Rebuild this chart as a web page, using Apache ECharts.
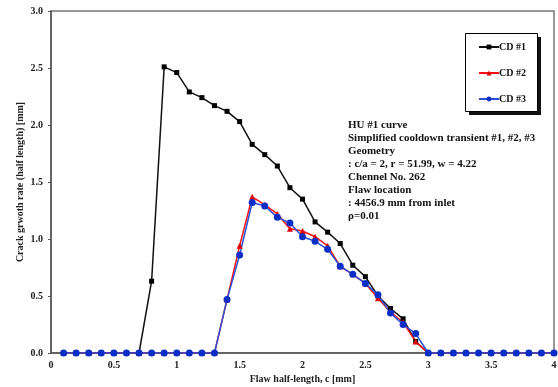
<!DOCTYPE html>
<html>
<head>
<meta charset="utf-8">
<script src="https://cdn.jsdelivr.net/npm/echarts@6/dist/echarts.min.js"></script>
<style>
  html, body { margin: 0; padding: 0; background: #fff; }
  #chart { width: 558px; height: 387px; }
</style>
</head>
<body>
<div id="chart"></div>
<script>
// flaw half-length c [mm]
const flawC = [0.1, 0.2, 0.3, 0.4, 0.5, 0.6, 0.7, 0.8, 0.9, 1.0,
  1.1, 1.2, 1.3, 1.4, 1.5, 1.6, 1.7, 1.8, 1.9, 2.0,
  2.1, 2.2, 2.3, 2.4, 2.5, 2.6, 2.7, 2.8, 2.9, 3.0,
  3.1, 3.2, 3.3, 3.4, 3.5, 3.6, 3.7, 3.8, 3.9, 4.0];

const cd1 = [0, 0, 0, 0, 0, 0, 0, 0.63, 2.51, 2.46,
  2.29, 2.24, 2.17, 2.12, 2.03, 1.83, 1.74, 1.64, 1.45, 1.35,
  1.15, 1.06, 0.96, 0.77, 0.67, 0.50, 0.39, 0.30, 0.10, 0,
  0, 0, 0, 0, 0, 0, 0, 0, 0, 0];

const cd2 = [0, 0, 0, 0, 0, 0, 0, 0, 0, 0,
  0, 0, 0, 0.47, 0.94, 1.37, 1.30, 1.22, 1.09, 1.07,
  1.02, 0.94, 0.76, 0.69, 0.61, 0.48, 0.36, 0.27, 0.10, 0,
  0, 0, 0, 0, 0, 0, 0, 0, 0, 0];

const cd3 = [0, 0, 0, 0, 0, 0, 0, 0, 0, 0,
  0, 0, 0, 0.47, 0.86, 1.32, 1.29, 1.19, 1.14, 1.02,
  0.98, 0.91, 0.76, 0.69, 0.61, 0.51, 0.35, 0.25, 0.17, 0,
  0, 0, 0, 0, 0, 0, 0, 0, 0, 0];

const noteLines = [
  "HU #1 curve",
  "Simplified cooldown transient #1, #2, #3",
  "Geometry",
  ": c/a = 2, r = 51.99, w = 4.22",
  "Chennel No. 262",
  "Flaw location",
  ": 4456.9 mm from inlet",
  "ρ=0.01",
];

const FONT = '"Liberation Serif", "Times New Roman", serif';

const pairs = (ys) => flawC.map((x, i) => [x, ys[i]]);

const chart = echarts.init(document.getElementById("chart"));

const axisText = { color: "#222", fontFamily: FONT, fontWeight: "bold", fontSize: 10 };

chart.setOption({
  animation: false,
  grid: {
    left: 51, right: 4, top: 11, bottom: 34,
    outerBoundsMode: "none",
    show: true, borderColor: "#777", borderWidth: 1.5,
  },
  xAxis: {
    type: "value",
    min: 0, max: 4, interval: 0.5,
    name: "Flaw half-length, c [mm]",
    nameLocation: "middle",
    nameGap: 21,
    nameMoveOverlap: false,
    nameTextStyle: axisText,
    axisLine: { lineStyle: { color: "#555", width: 1.5 } },
    axisTick: { show: false },
    axisLabel: { ...axisText, margin: 7, formatter: (v) => String(v) },
    splitLine: { show: false },
  },
  yAxis: {
    type: "value",
    min: 0, max: 3, interval: 0.5,
    name: "Crack grwoth rate (half length) [mm]",
    nameLocation: "middle",
    nameRotate: 90,
    nameGap: 26,
    nameMoveOverlap: false,
    nameTextStyle: axisText,
    axisLine: { show: true, lineStyle: { color: "#555", width: 1.5 } },
    axisTick: { show: true, length: 3, lineStyle: { color: "#555" } },
    axisLabel: { ...axisText, margin: 8, formatter: (v) => v.toFixed(1) },
    splitLine: { show: false },
  },
  legend: {
    orient: "vertical",
    left: 478, top: 42,
    padding: 0,
    itemGap: 16,
    itemWidth: 20,
    itemHeight: 6,
    z: 10,
    textStyle: { ...axisText, color: "#111", padding: [0, 0, 0, -5] },
    data: ["CD #1", "CD #2", "CD #3"],
  },
  graphic: [
    // legend frame with its drop shadow
    {
      type: "rect", z: 1,
      shape: { x: 469, y: 37, width: 72, height: 78 },
      style: { fill: "#111" },
    },
    {
      type: "rect", z: 2,
      shape: { x: 465.5, y: 33.5, width: 72, height: 78 },
      style: { fill: "#fff", stroke: "#000", lineWidth: 1 },
    },
    {
      type: "text",
      left: 348, top: 119,
      style: {
        text: noteLines.join("\n"),
        font: 'bold 11px "Liberation Serif", "Times New Roman", serif',
        fill: "#111",
        lineHeight: 12.9,
      },
    },
  ],
  series: [
    {
      name: "CD #1", type: "line", data: pairs(cd1),
      symbol: "rect", symbolSize: 5, clip: false,
      lineStyle: { color: "#111", width: 1.5 },
      itemStyle: { color: "#000" },
    },
    {
      name: "CD #2", type: "line", data: pairs(cd2),
      symbol: "triangle", symbolSize: 6, clip: false,
      lineStyle: { color: "#ff1010", width: 1.5 },
      itemStyle: { color: "#e00000" },
    },
    {
      name: "CD #3", type: "line", data: pairs(cd3),
      symbol: "circle", symbolSize: 7, clip: false,
      lineStyle: { color: "#2a4fd6", width: 1.5 },
      itemStyle: { color: "#0b2fc6" },
    },
  ],
});
</script>
</body>
</html>
